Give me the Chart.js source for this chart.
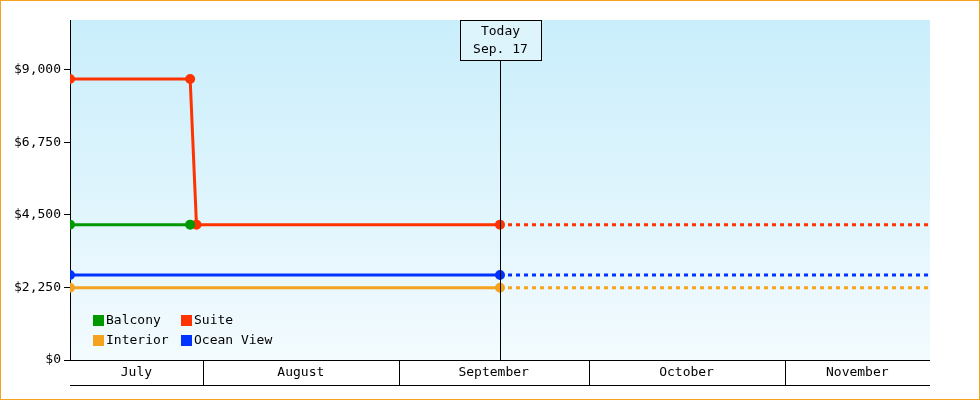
<!DOCTYPE html>
<html><head><meta charset="utf-8">
<script src="https://cdn.jsdelivr.net/npm/chart.js@4/dist/chart.umd.min.js"></script>
<style>html,body{margin:0;padding:0;background:#fff}#c{display:block}</style>
</head><body><canvas id="c" width="980" height="400"></canvas>
<script>
// x values: days since July 1
const todayDay = 78; // Sep 17
const endDay = 146;
const months = ['July','August','September','October','November'];
const monthStarts = [10,31,62,92,123,146];
const balconyX = [10,29];
const balconyY = [4200,4200];
const suiteX = [10,29,30,78,146];
const suiteY = [8720,8720,4200,4200,4200];
const interiorX = [10,78,146];
const interiorY = [2240,2240,2240];
const oceanX = [10,78,146];
const oceanY = [2640,2640,2640];
const yTicks = [0,2250,4500,6750,9000];
const names = ['Balcony','Suite','Interior','Ocean View'];
const colors = ['#009900','#ff3300','#f5a31e','#0033ff'];
const FONT = "'DejaVu Sans Mono', monospace";

function pts(xs, ys){ return xs.map((x,i)=>({x, y: ys[i]})); }
function ds(label, data, color){
  return {label, data, borderColor: color, backgroundColor: color, borderWidth: 3,
    pointRadius: c => (c.raw && c.raw.x === endDay) ? 0 : 3.5, pointHoverRadius: 4,
    segment: {borderDash: c => c.p0.parsed.x >= todayDay ? [4,4] : undefined}, tension: 0};
}
const deco = {
  id: 'deco',
  beforeDraw(chart){
    const {ctx, chartArea: a} = chart;
    const g = ctx.createLinearGradient(0, a.top, 0, a.bottom);
    g.addColorStop(0, '#c9eefb'); g.addColorStop(1, '#f3fbfe');
    ctx.fillStyle = g; ctx.fillRect(a.left, a.top, a.right - a.left, a.bottom - a.top);
  },
  afterDatasetsDraw(chart){
    const {ctx, chartArea: a, scales: {x}} = chart;
    ctx.save();
    // border
    ctx.strokeStyle = '#f5a31e'; ctx.lineWidth = 1; ctx.strokeRect(0.5,0.5,979,399);
    // month band
    ctx.strokeStyle = '#000'; ctx.fillStyle = '#000';
    ctx.font = '13px ' + FONT; ctx.textAlign = 'center'; ctx.textBaseline = 'middle';
    ctx.beginPath(); ctx.moveTo(a.left, a.bottom + 25.5); ctx.lineTo(a.right, a.bottom + 25.5); ctx.stroke();
    for (let i = 0; i < months.length; i++){
      const x0 = x.getPixelForValue(monthStarts[i]), x1 = x.getPixelForValue(monthStarts[i+1]);
      if (i > 0){ ctx.beginPath(); ctx.moveTo(Math.round(x0)+0.5, a.bottom); ctx.lineTo(Math.round(x0)+0.5, a.bottom+25); ctx.stroke(); }
      ctx.fillText(months[i], (x0+x1)/2, a.bottom + 13);
    }
    // x axis line
    ctx.beginPath(); ctx.moveTo(a.left, a.bottom+0.5); ctx.lineTo(a.right, a.bottom+0.5); ctx.stroke();
    // today
    const tx = Math.round(x.getPixelForValue(todayDay)) + 0.5;
    ctx.beginPath(); ctx.moveTo(tx, 60); ctx.lineTo(tx, a.bottom); ctx.stroke();
    ctx.fillStyle = '#ddf4fd'; ctx.fillRect(tx-40, 20.5, 81, 40);
    ctx.strokeRect(tx-40, 20.5, 81, 40);
    ctx.fillStyle = '#000';
    ctx.fillText('Today', tx, 32); ctx.fillText('Sep. 17', tx, 50);
    // legend
    ctx.textAlign = 'left';
    const lx = [93, 181], ly = [320, 340];
    names.forEach((n, i) => {
      const px = lx[i % 2], py = ly[Math.floor(i / 2)];
      ctx.fillStyle = colors[i]; ctx.fillRect(px, py - 5, 11, 11);
      ctx.fillStyle = '#000'; ctx.fillText(n, px + 13, py + 1);
    });
    ctx.restore();
  }
};
new Chart(document.getElementById('c'), {
  type: 'line',
  data: {datasets: [
    ds(names[2], pts(interiorX, interiorY), colors[2]),
    ds(names[3], pts(oceanX, oceanY), colors[3]),
    ds(names[0], pts(balconyX, balconyY), colors[0]),
    ds(names[1], pts(suiteX, suiteY), colors[1])
  ]},
  options: {
    responsive: false, animation: false, devicePixelRatio: 1,
    layout: {padding: {left: 0, right: 50, top: 20, bottom: 40}},
    plugins: {legend: {display: false}, tooltip: {enabled: false}},
    scales: {
      x: {type: 'linear', min: 10, max: endDay, display: false},
      y: {min: 0, max: 10550,
        afterBuildTicks: s => { s.ticks = yTicks.map(v => ({value: v})); },
        afterFit: s => { s.width = 70; },
        grid: {drawOnChartArea: false, drawTicks: true, tickLength: 6, color: '#000'},
        border: {color: '#000', width: 1},
        ticks: {color: '#000', font: {family: FONT, size: 13}, padding: 3,
          callback: v => '$' + v.toLocaleString('en-US')}
      }
    }
  },
  plugins: [deco]
});
</script></body></html>
